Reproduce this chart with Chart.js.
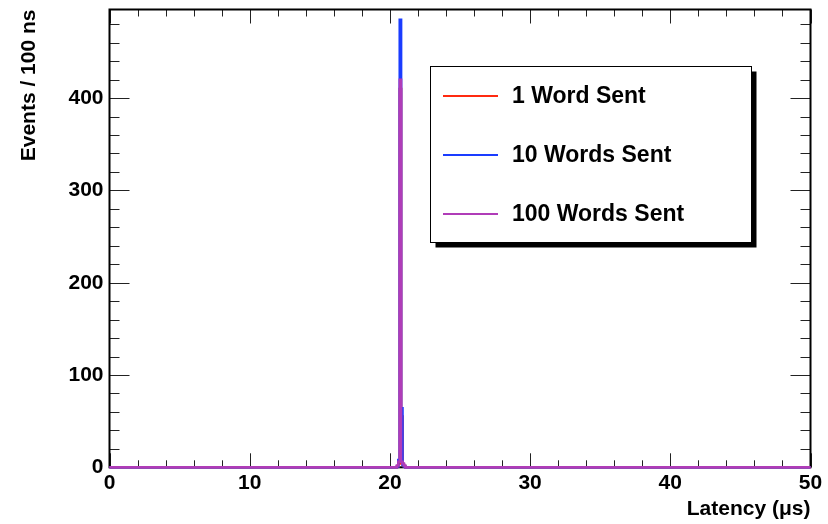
<!DOCTYPE html>
<html>
<head>
<meta charset="utf-8">
<script src="https://cdn.jsdelivr.net/npm/chart.js@4.4.1/dist/chart.umd.min.js"></script>
<style>
  html, body { margin: 0; padding: 0; background: #ffffff; }
  #wrap { width: 828px; height: 524px; }
</style>
</head>
<body>
<div id="wrap"><canvas id="c" width="828" height="524"></canvas></div>
<script>
// Histogram bin low edges (µs); value at each edge holds until the next edge (100 ns bins)
const binEdges = [0, 20.5, 20.6, 20.7, 20.8, 20.9, 21.0, 21.1, 50];
const oneWordSent = [0, 1, 4, 410, 55, 3, 1, 0, 0];
const tenWordsSent = [0, 1, 8, 485, 64, 3, 1, 0, 0];
const hundredWordsSent = [0, 2, 6, 420, 6, 4, 2, 0, 0];

const seriesLabels = ['1 Word Sent', '10 Words Sent', '100 Words Sent'];
const seriesColors = ['#ff2a10', '#1a3cff', '#b03cb8'];

const xMajorTicks = [0, 10, 20, 30, 40, 50];
const yMajorTicks = [0, 100, 200, 300, 400];
const xRange = [0, 50];
const yRange = [0, 496];

const xTitle = 'Latency (\u03bcs)';
const yTitle = 'Events / 100 ns';

const FONT = 'Liberation Sans, Arial, Helvetica, sans-serif';

function pts(vals) {
  return binEdges.map((x, i) => ({ x: x, y: vals[i] }));
}

function noEdgePadding(s) {
  s.paddingTop = 0; s.paddingBottom = 0; s.paddingLeft = 0; s.paddingRight = 0;
}

const framePlugin = {
  id: 'rootFrame',
  beforeDatasetsDraw(chart) {
    const { ctx, chartArea: a, scales } = chart;
    const xs = scales.x, ys = scales.y;
    ctx.save();
    ctx.strokeStyle = '#222';
    ctx.lineWidth = 1;
    ctx.beginPath();
    for (let v = xRange[0]; v <= xRange[1] + 1e-9; v += 2) {
      const px = Math.round(xs.getPixelForValue(v)) + 0.5;
      const major = xMajorTicks.includes(Math.round(v));
      const len = major ? 14 : 7;
      ctx.moveTo(px, a.bottom); ctx.lineTo(px, a.bottom - len);
      ctx.moveTo(px, a.top); ctx.lineTo(px, a.top + len);
    }
    for (let v = 20; v < yRange[1]; v += 20) {
      const py = Math.round(ys.getPixelForValue(v)) + 0.5;
      const major = yMajorTicks.includes(v);
      const len = major ? 20 : 10;
      ctx.moveTo(a.left, py); ctx.lineTo(a.left + len, py);
      ctx.moveTo(a.right, py); ctx.lineTo(a.right - len, py);
    }
    ctx.stroke();
    ctx.strokeStyle = '#000';
    ctx.lineWidth = 2;
    ctx.strokeRect(a.left, a.top, a.right - a.left, a.bottom - a.top);
    ctx.restore();
  }
};

const legendPlugin = {
  id: 'rootLegend',
  afterDraw(chart) {
    const { ctx } = chart;
    const bx = 430.5, by = 66.5, bw = 321, bh = 176, sh = 5;
    ctx.save();
    ctx.fillStyle = '#000';
    ctx.fillRect(bx + sh, by + sh, bw, bh);
    ctx.fillStyle = '#fff';
    ctx.fillRect(bx, by, bw, bh);
    ctx.strokeStyle = '#000';
    ctx.lineWidth = 1;
    ctx.strokeRect(bx, by, bw, bh);
    const rows = [96, 155, 214];
    ctx.font = 'bold 23px ' + FONT;
    ctx.textBaseline = 'middle';
    ctx.textAlign = 'left';
    chart.data.datasets.forEach((ds, i) => {
      ctx.strokeStyle = ds.borderColor;
      ctx.lineWidth = 2;
      ctx.beginPath();
      ctx.moveTo(443, rows[i]); ctx.lineTo(498, rows[i]);
      ctx.stroke();
      ctx.fillStyle = '#000';
      ctx.fillText(ds.label, 512, rows[i] + 1);
    });
    ctx.restore();
  }
};

const datasets = [oneWordSent, tenWordsSent, hundredWordsSent].map((vals, i) => ({
  label: seriesLabels[i],
  data: pts(vals),
  borderColor: seriesColors[i],
  backgroundColor: seriesColors[i],
  borderWidth: 2.5,
  pointRadius: 0,
  stepped: 'before',
  fill: false,
  tension: 0,
  order: 3 - i,
  clip: 3
}));

new Chart(document.getElementById('c'), {
  type: 'line',
  data: { datasets: datasets },
  options: {
    responsive: false,
    animation: false,
    events: [],
    layout: { padding: { top: 9.5, right: 17.5, left: 0, bottom: 0 } },
    plugins: { legend: { display: false }, tooltip: { enabled: false } },
    scales: {
      x: {
        type: 'linear',
        min: xRange[0], max: xRange[1],
        grid: { display: false, drawTicks: false },
        border: { display: false },
        ticks: {
          stepSize: 10, autoSkip: false, maxRotation: 0,
          color: '#000', padding: 3,
          font: { family: FONT, weight: 'bold', size: 21 }
        },
        afterBuildTicks(s) { s.ticks = xMajorTicks.map(v => ({ value: v })); },
        afterFit(s) { s.height = 56.7; noEdgePadding(s); },
        title: {
          display: true, text: xTitle, align: 'end', color: '#000',
          font: { family: FONT, weight: 'bold', size: 21 },
          padding: { top: 0, bottom: 2.4 }
        }
      },
      y: {
        type: 'linear',
        min: yRange[0], max: yRange[1],
        grid: { display: false, drawTicks: false },
        border: { display: false },
        ticks: {
          stepSize: 100, autoSkip: false,
          color: '#000', padding: 6,
          font: { family: FONT, weight: 'bold', size: 21 }
        },
        afterBuildTicks(s) { s.ticks = yMajorTicks.map(v => ({ value: v })); },
        afterFit(s) { s.width = 109.5; noEdgePadding(s); },
        title: {
          display: true, text: yTitle, align: 'end', color: '#000',
          font: { family: FONT, weight: 'bold', size: 21 },
          padding: { top: 16.4, bottom: 0 }
        }
      }
    }
  },
  plugins: [framePlugin, legendPlugin]
});
</script>
</body>
</html>
